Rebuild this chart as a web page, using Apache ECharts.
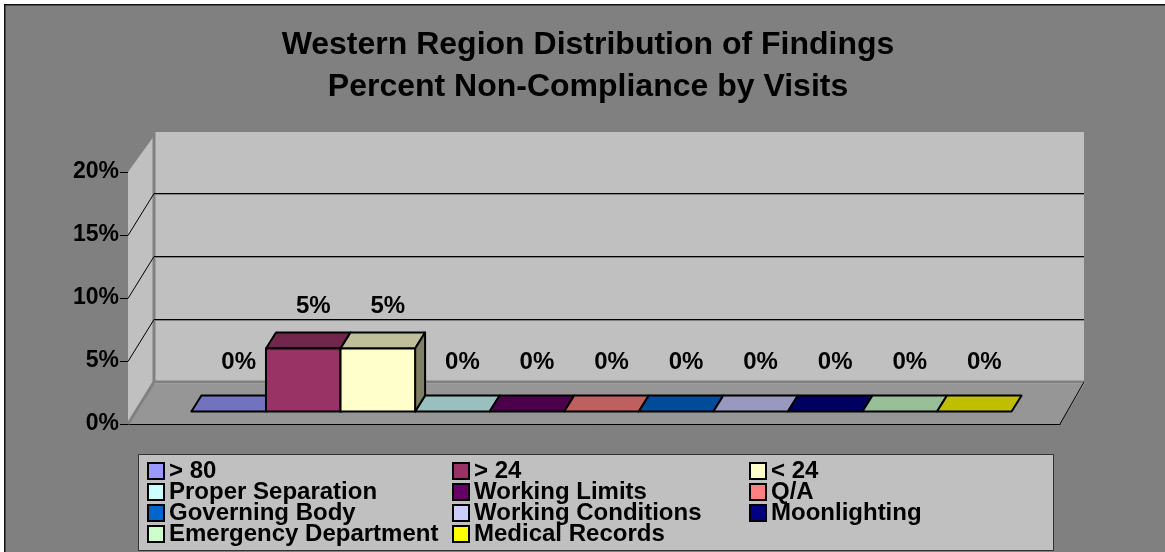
<!DOCTYPE html>
<html>
<head>
<meta charset="utf-8">
<style>
  html, body { margin: 0; padding: 0; background: #808080; }
  #main { width: 1165px; height: 552px; }
</style>
<script src="https://cdn.jsdelivr.net/npm/echarts@6/dist/echarts.min.js"></script>
</head>
<body>
<div id="main"></div>
<script>
const findings = ["> 80", "> 24", "< 24", "Proper Separation", "Working Limits", "Q/A",
  "Governing Body", "Working Conditions", "Moonlighting", "Emergency Department", "Medical Records"];
const percents = [0, 5, 5, 0, 0, 0, 0, 0, 0, 0, 0];
const colors = ["#9999FF", "#993366", "#FFFFCC", "#CCFFFF", "#660066", "#FF8080",
  "#0066CC", "#CCCCFF", "#000080", "#CCFFCC", "#FFFF00"];
const gridLevels = [5, 10, 15];
const font = "Liberation Sans";

const chart = echarts.init(document.getElementById("main"));

function shade(hex, k) {
  const n = parseInt(hex.slice(1), 16);
  return `rgb(${((n >> 16) & 255) * k | 0},${((n >> 8) & 255) * k | 0},${(n & 255) * k | 0})`;
}

// walls and floor of the fake 3d box
const wallDx = 26, wallDy = -42;
function renderFrame(params, api) {
  const g = params.coordSys;
  const x0 = g.x, x1 = g.x + g.width;
  const y0 = api.coord([0, 0])[1], yTop = api.coord([0, 20])[1];
  const children = [
    { type: "polygon", shape: { points: [[x0, y0], [x0 + wallDx, y0 + wallDy], [x1 + wallDx, y0 + wallDy], [x1, y0]] },
      style: { fill: "#969696" } },
    { type: "polygon", shape: { points: [[x0, y0], [x0, yTop], [x0 + wallDx, yTop + wallDy + 6], [x0 + wallDx, y0 + wallDy]] },
      style: { fill: "#C0C0C0" } },
    { type: "rect", shape: { x: x0 + wallDx, y: yTop + wallDy + 2, width: g.width - 2, height: y0 - yTop },
      style: { fill: "#C0C0C0" } },
    { type: "line", shape: { x1: x0 + wallDx, y1: yTop + wallDy + 2, x2: x0 + wallDx, y2: y0 + wallDy },
      style: { stroke: "#808080", lineWidth: 3 } },
    { type: "line", shape: { x1: x0, y1: y0, x2: x0 + wallDx, y2: y0 + wallDy },
      style: { stroke: "#808080", lineWidth: 3 } },
    { type: "line", shape: { x1: x0 + wallDx, y1: y0 + wallDy, x2: x1 + wallDx - 2, y2: y0 + wallDy },
      style: { stroke: "#808080", lineWidth: 3 } },
    { type: "line", shape: { x1: x1, y1: y0, x2: x1 + wallDx - 2, y2: y0 + wallDy },
      style: { stroke: "#000", lineWidth: 1 } }
  ];
  gridLevels.forEach(v => {
    const y = Math.round(api.coord([0, v])[1]);
    children.push(
      { type: "line", shape: { x1: x0, y1: y + 0.5, x2: x0 + wallDx, y2: y + wallDy + 0.5 }, style: { stroke: "#000", lineWidth: 1 } },
      { type: "line", shape: { x1: x0 + wallDx, y1: y + wallDy + 1.5, x2: x1 + wallDx - 2, y2: y + wallDy + 1.5 }, style: { stroke: "#808080", lineWidth: 1 } },
      { type: "line", shape: { x1: x0 + wallDx, y1: y + wallDy + 0.5, x2: x1 + wallDx - 2, y2: y + wallDy + 0.5 }, style: { stroke: "#000", lineWidth: 1 } }
    );
  });
  return { type: "group", children };
}

// one block, index i of the row
const barDx = 10, barDy = -16, barShiftX = 7.5, barShiftY = -12.5;
function renderBlock(i, color) {
  return function (params, api) {
    const g = params.coordSys;
    const value = api.value(1);
    const barW = g.width * 0.08;
    const x = g.x + (g.width - barW * findings.length) / 2 + barShiftX + i * barW;
    const yBase = api.coord([0, 0])[1] + barShiftY;
    const yTop = api.coord([0, value])[1] + barShiftY;
    const line = { stroke: "#000", lineWidth: 2, lineJoin: "round" };
    const children = [
      { type: "polygon", shape: { points: [[x, yTop], [x + barDx, yTop + barDy], [x + barW + barDx, yTop + barDy], [x + barW, yTop]] },
        style: Object.assign({ fill: shade(color, 0.75) }, line) }
    ];
    if (value > 0) {
      children.push(
        { type: "polygon", shape: { points: [[x + barW, yTop], [x + barW + barDx, yTop + barDy], [x + barW + barDx, yBase + barDy], [x + barW, yBase]] },
          style: Object.assign({ fill: shade(color, 0.5) }, line) },
        { type: "rect", shape: { x, y: yTop, width: barW, height: yBase - yTop },
          style: Object.assign({ fill: color }, line) }
      );
    }
    children.push({
      type: "text",
      style: {
        text: value + "%", x: x + barW / 2 + 10, y: yTop - (value > 0 ? 42 : 49),
        textAlign: "center", textVerticalAlign: "middle",
        font: `bold 24px "${font}"`, fill: "#000"
      }
    });
    return { type: "group", children };
  };
}

const series = [{
  type: "custom", name: "frame", silent: true, z: 1, clip: false,
  renderItem: renderFrame, data: [["", 0]],
  encode: { x: 0, y: 1 }
}];
findings.forEach((name, i) => {
  series.push({
    type: "custom", name, silent: true, clip: false,
    z: percents[i] > 0 ? 3 : 2,
    itemStyle: { color: colors[i] },
    renderItem: renderBlock(i, colors[i]),
    data: [["", percents[i]]],
    encode: { x: 0, y: 1 }
  });
});

function legendColumn(left, names) {
  return {
    left, top: 459, orient: "vertical", selectedMode: false,
    itemWidth: 16, itemHeight: 16, itemGap: -3, padding: 0, icon: "rect",
    itemStyle: { borderColor: "#000", borderWidth: 2 },
    textStyle: { fontFamily: font, fontWeight: "bold", fontSize: 24, color: "#000" },
    data: names
  };
}

chart.setOption({
  animation: false,
  backgroundColor: "#808080",
  title: {
    text: "Western Region Distribution of Findings\nPercent Non-Compliance by Visits",
    left: 583, top: 19, textAlign: "center",
    textStyle: { fontFamily: font, fontWeight: "bold", fontSize: 32, lineHeight: 42, color: "#000" }
  },
  grid: { left: 128, top: 172, width: 932, height: 252 },
  xAxis: {
    type: "category", data: [""],
    axisTick: { show: false }, axisLabel: { show: false },
    axisLine: { lineStyle: { color: "#000", width: 1 } }
  },
  yAxis: {
    type: "value", min: 0, max: 20, interval: 5,
    splitLine: { show: false },
    axisLine: { show: true, lineStyle: { color: "#000", width: 1 } },
    axisTick: { show: true, length: 8, lineStyle: { color: "#000" } },
    axisLabel: { formatter: "{value}%", fontFamily: font, fontWeight: "bold", fontSize: 23, color: "#000", margin: 9, lineHeight: 27, padding: [6, 0, 0, 0] }
  },
  legend: [
    legendColumn(147, findings.filter((_, i) => i % 3 === 0)),
    legendColumn(452, findings.filter((_, i) => i % 3 === 1)),
    legendColumn(749, findings.filter((_, i) => i % 3 === 2))
  ],
  graphic: [
    { type: "rect", z: -1, shape: { x: 138.5, y: 454.5, width: 915, height: 96 },
      style: { fill: "#C0C0C0", stroke: "#333", lineWidth: 1 } },
    // white margin and the dark edge on the top and left only
    { type: "polyline", z: 100, silent: true, shape: { points: [[2, 552], [2, 2], [1165, 2]] },
      style: { fill: "none", stroke: "#fff", lineWidth: 4 } },
    { type: "polyline", z: 100, silent: true, shape: { points: [[4.75, 552], [4.75, 4.75], [1165, 4.75]] },
      style: { fill: "none", stroke: "#111", lineWidth: 1.5 } }
  ],
  series
});
</script>
</body>
</html>
